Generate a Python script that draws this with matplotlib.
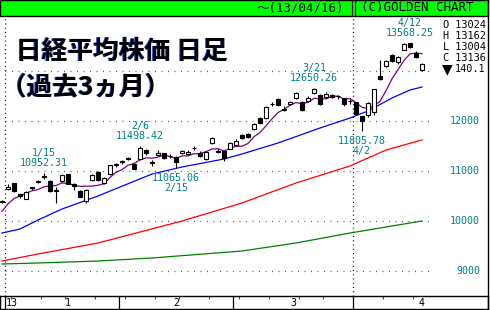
#!/usr/bin/env python
# Nikkei 225 daily candles, last 3 months (GOLDEN CHART style)
import matplotlib as mpl; mpl.use("Agg")
import matplotlib.pyplot as plt
from matplotlib.lines import Line2D
from matplotlib.patches import Rectangle
from matplotlib.transforms import blended_transform_factory, offset_copy
import numpy as np
import pandas as pd

# Data
# ------------------------------------------------------------------------------
days = ["12/28",
        "1/4", "1/7", "1/8", "1/9", "1/10", "1/11", "1/15", "1/16", "1/17", "1/18",
        "1/21", "1/22", "1/23", "1/24", "1/25", "1/28", "1/29", "1/30", "1/31",
        "2/1", "2/4", "2/5", "2/6", "2/7", "2/8", "2/12", "2/13", "2/14", "2/15",
        "2/18", "2/19", "2/20", "2/21", "2/22", "2/25", "2/26", "2/27", "2/28",
        "3/1", "3/4", "3/5", "3/6", "3/7", "3/8", "3/11", "3/12", "3/13", "3/14",
        "3/15", "3/18", "3/19", "3/21", "3/22", "3/25", "3/26", "3/27", "3/28", "3/29",
        "4/1", "4/2", "4/3", "4/4", "4/5", "4/8", "4/9", "4/10", "4/11", "4/12",
        "4/15", "4/16"]
opens = [10380,
         10640, 10750, 10540, 10450, 10680, 10790, 10900, 10800, 10620, 10800,
         10930, 10740, 10600, 10400, 10820, 10980, 10760, 10940, 11130,
         11190, 11250, 11150, 11250, 11410, 11170, 11330, 11350, 11300, 11280,
         11360, 11340, 11460, 11360, 11250, 11560, 11390, 11400, 11450,
         11520, 11720, 11740, 11840, 12060, 12060, 12340, 12440, 12220, 12340,
         12460, 12380, 12400, 12560, 12520, 12490, 12520, 12500, 12460, 12400,
         12380, 12100, 12120, 12180, 12900, 13100, 13320, 13180, 13430, 13550,
         13350, 13024]
highs = [10420,
         10740, 10760, 10560, 10600, 10690, 10830, 10952.31, 10820, 10680, 10950,
         10950, 10760, 10620, 10640, 10940, 11000, 10880, 11130, 11170,
         11220, 11290, 11160, 11498.42, 11450, 11220, 11420, 11370, 11340, 11300,
         11420, 11420, 11500, 11400, 11400, 11680, 11460, 11410, 11580,
         11640, 11740, 11760, 11960, 12080, 12300, 12380, 12460, 12300, 12400,
         12580, 12400, 12500, 12650.26, 12540, 12580, 12540, 12520, 12470, 12440,
         12390, 12110, 12380, 12650, 13225, 13230, 13340, 13300, 13560, 13568.25,
         13400, 13162]
lows = [10360,
        10620, 10590, 10460, 10440, 10620, 10760, 10850, 10590, 10360, 10780,
        10740, 10620, 10480, 10360, 10800, 10810, 10740, 10930, 11080,
        11150, 11220, 11040, 11240, 11330, 11100, 11320, 11240, 11260, 11065.06,
        11340, 11330, 11420, 11280, 11230, 11540, 11360, 11200, 11440,
        11500, 11640, 11670, 11830, 11950, 12050, 12300, 12300, 12200, 12320,
        12440, 12200, 12380, 12540, 12330, 12470, 12460, 12440, 12300, 12340,
        12120, 11805.78, 12090, 12120, 12820, 13090, 13180, 13150, 13420, 13470,
        13260, 13004]
closes = [10395.18,
          10688.11, 10599.01, 10508.06, 10578.57, 10652.64, 10801.57, 10879.08, 10600.44, 10609.64, 10913.30,
          10747.74, 10709.93, 10486.99, 10620.88, 10926.65, 10824.31, 10866.72, 11113.95, 11138.66,
          11191.34, 11260.35, 11046.92, 11463.75, 11357.07, 11153.16, 11369.12, 11251.41, 11307.28, 11173.83,
          11407.87, 11372.34, 11468.28, 11309.13, 11385.94, 11662.52, 11398.81, 11253.97, 11559.36,
          11606.38, 11652.29, 11683.45, 11932.27, 11968.08, 12283.62, 12349.05, 12314.81, 12239.66, 12381.19,
          12560.95, 12220.63, 12468.23, 12635.69, 12338.53, 12546.46, 12471.62, 12493.79, 12335.96, 12397.91,
          12135.02, 12003.43, 12362.20, 12634.54, 12833.64, 13192.59, 13192.35, 13288.13, 13549.16, 13485.14,
          13275.66, 13135.56]
prev_closes = [9940.06, 10080.12, 10230.36, 10322.98]   # closes before 12/28, for the 5-day MA

# 25 / 75 / 200 day moving averages (day index, value)
ma25_idx = [-1, 2, 5, 9, 15, 24, 29, 36, 39, 45, 52, 57, 60, 64, 67, 69]
ma25_val = [9760, 9840, 10020, 10240, 10500, 10940, 11080, 11240, 11340, 11560,
            11860, 12060, 12200, 12460, 12620, 12680]
ma75_idx = [-1, 5, 15, 29, 39, 48, 57, 63, 69]
ma75_val = [9200, 9340, 9560, 10000, 10360, 10760, 11100, 11420, 11620]
ma200_idx = [-1, 5, 15, 24, 39, 48, 57, 69]
ma200_val = [9140, 9160, 9200, 9260, 9400, 9560, 9760, 10000]

grid_levels = [9000, 10000, 11000, 12000, 13000]
label_levels = [9000, 10000, 11000, 12000]
month_names = ["1", "2", "3", "4"]
month_label_pos = [10, 28, 47.5, 69]
high_marks = ["1/15", "2/6", "3/21", "4/12"]
low_marks = ["2/15", "4/2"]

TEAL = "#008080"
W, H = 490, 310
MONO = ["DejaVu Sans Mono", "DejaVu Sans", "Noto Sans CJK JP"]

def fx(x): return x / W
def fy(y): return 1 - y / H

# Figure
# ------------------------------------------------------------------------------
fig = plt.figure(figsize=(W / 100, H / 100), dpi=100)
fig.patch.set_facecolor("white")

x = np.arange(len(days)) - 1
o = np.array(opens); h = np.array(highs); l = np.array(lows); c = np.array(closes)

ax = fig.add_axes([0, fy(296), fx(488), (296 - 17) / H])
ax.set_xlim(-8 / 6, 80)
ax.set_ylim(8500, 14080)
ax.set_axis_off()

# grid
for lv in grid_levels:
    ax.axhline(lv, xmin=5 / 488, xmax=433 / 488, color=TEAL, lw=0.9,
               linestyle=(0, (0.8, 4.4)), zorder=1)
tr = blended_transform_factory(ax.transAxes, ax.transData)
for lv in label_levels:
    ax.text(480 / 488, lv, str(lv), transform=tr, ha="right", va="center",
            color=TEAL, fontsize=7.2, family=MONO)

# vertical dotted separators (year start, April)
for xv in [-0.5, 57.5]:
    ax.axvline(xv, color="black", lw=0.9, linestyle=(0, (0.8, 2.6)), zorder=1)

# moving averages
ma5 = pd.Series(prev_closes + closes).rolling(5).mean().to_numpy()[len(prev_closes):]
ax.plot(x, ma5, color="#800080", lw=0.9, zorder=2)
ax.plot(ma25_idx, ma25_val, color="#0000ff", lw=0.9, zorder=2)
ax.plot(ma75_idx, ma75_val, color="#ff0000", lw=0.9, zorder=2)
ax.plot(ma200_idx, ma200_val, color="#008000", lw=0.9, zorder=2)

# candles
ax.vlines(x, l, h, color="black", lw=0.8, zorder=3)
up = c >= o
ax.bar(x[up], (c - o)[up], bottom=o[up], width=0.6, facecolor="white",
       edgecolor="black", linewidth=0.8, zorder=4)
ax.bar(x[~up], (o - c)[~up], bottom=c[~up], width=0.6, facecolor="black",
       edgecolor="black", linewidth=0.8, zorder=4)

# high / low marks
for d in high_marks:
    k = days.index(d)
    ax.annotate(f"{d}\n{highs[k]:.2f}", xy=(x[k], highs[k]), xytext=(0, 5),
                textcoords="offset pixels", ha="center", va="bottom",
                color=TEAL, fontsize=7.2, family=MONO, linespacing=1.0)
for d in low_marks:
    k = days.index(d)
    ax.annotate(f"{lows[k]:.2f}\n{d}", xy=(x[k], lows[k]), xytext=(0, -5),
                textcoords="offset pixels", ha="center", va="top",
                color=TEAL, fontsize=7.2, family=MONO, linespacing=1.0)

# last day summary
summary = [f"O {opens[-1]:.0f}", f"H {highs[-1]:.0f}", f"L {lows[-1]:.0f}",
           f"C {closes[-1]:.0f}"]
for n, s in enumerate(summary):
    fig.text(fx(443), fy(25 + 11 * n), s, ha="left", va="center",
             fontsize=7.4, family=MONO, color="black")
chg = closes[-1] - closes[-2]
fig.text(fx(442), fy(69), "▼" if chg < 0 else "▲", ha="left", va="center",
         fontsize=10, family="DejaVu Sans", color="black")
fig.text(fx(455), fy(69), f"{abs(chg):.1f}", ha="left", va="center",
         fontsize=7.4, family=MONO, color="black")

# title
title_kw = dict(ha="left", va="center", fontsize=18.5, fontweight="bold",
                family=["Noto Sans CJK JP", "DejaVu Sans"])
for txt, tx, ty in [("日経平均株価 日足", 16, 51), ("（過去3ヵ月）", 1, 87)]:
    shadow = offset_copy(fig.transFigure, fig=fig, x=-1, y=0, units="dots")
    fig.text(fx(tx), fy(ty), txt, color="#2040c0", transform=shadow, **title_kw)
    fig.text(fx(tx), fy(ty), txt, color="black", **title_kw)

# header bar
fig.patches.append(Rectangle((0, fy(16)), fx(488), 16 / H, transform=fig.transFigure,
                             facecolor="#00ff00", edgecolor="black", lw=1.0))
for xs in [352, 354.5]:
    fig.lines.append(Line2D([fx(xs), fx(xs)], [fy(0), fy(16)], transform=fig.transFigure,
                            color="black", lw=0.8))
fig.text(fx(300), fy(8), "～(13/04/16)", ha="center", va="center", fontsize=9,
         family=MONO)
fig.text(fx(417), fy(8), "(C)GOLDEN CHART", ha="center", va="center", fontsize=9,
         family=MONO)

# right border
fig.lines.append(Line2D([fx(488), fx(488)], [0, 1], transform=fig.transFigure,
                        color="black", lw=1.0))

# bottom date strip
bx = fig.add_axes([0, fy(309), fx(488), 13 / H])
bx.set_xlim(-8 / 6, 80)
bx.set_ylim(0, 1)
bx.set_xticks([]); bx.set_yticks([])
for sp in bx.spines.values():
    sp.set_linewidth(1.0)
dates = pd.to_datetime(["2012/" + days[0]] + ["2013/" + d for d in days[1:]])
week_starts = [k for k in range(1, len(days)) if dates[k].dayofweek <= dates[k - 1].dayofweek]
month_starts = [k for k in range(1, len(days)) if dates[k].month != dates[k - 1].month]
bx.vlines(x[week_starts] - 0.5, 1 - 2.5 / 13, 1, color="red", lw=0.8)
for k in month_starts:
    bx.axvline(x[k] - 0.5, color="black", lw=0.9)
bx.text(x[1] - 0.3, 0.45, "13", ha="left", va="center", fontsize=7.2, family=MONO)
for name, pos in zip(month_names, month_label_pos):
    bx.text(pos, 0.45, name, ha="center", va="center", fontsize=7.2, family=MONO)

fig.savefig("out.png", dpi=100)
